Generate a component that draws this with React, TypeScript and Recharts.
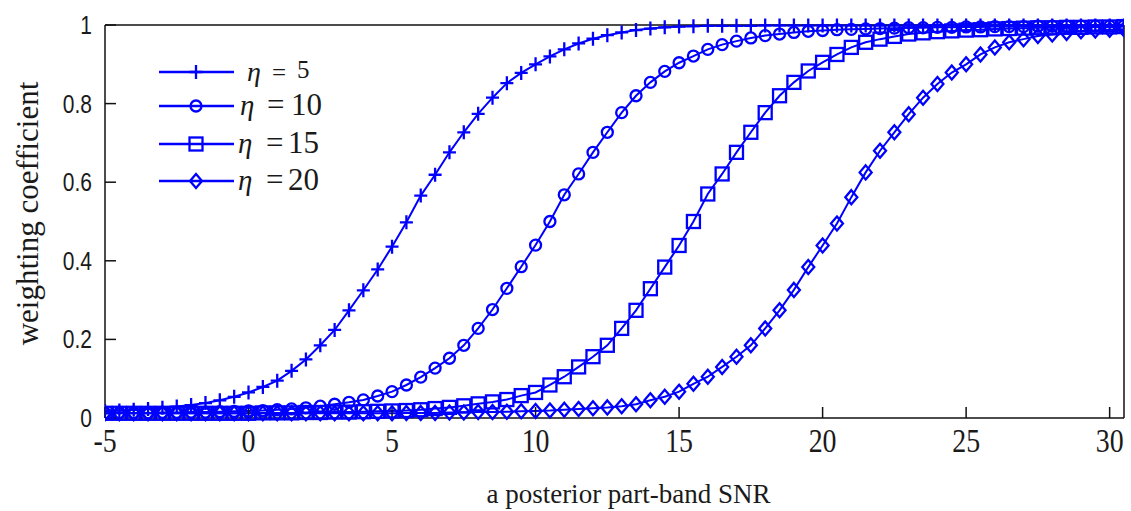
import React from 'react';
import { LineChart, Line, XAxis, YAxis } from 'recharts';

const BLUE = '#0000ff';

// a posterior part-band SNR (x values)
const snr = [
  -5, -4.5, -4, -3.5, -3, -2.5, -2, -1.5, -1, -0.5,
  0, 0.5, 1, 1.5, 2, 2.5, 3, 3.5, 4, 4.5,
  5, 5.5, 6, 6.5, 7, 7.5, 8, 8.5, 9, 9.5,
  10, 10.5, 11, 11.5, 12, 12.5, 13, 13.5, 14, 14.5,
  15, 15.5, 16, 16.5, 17, 17.5, 18, 18.5, 19, 19.5,
  20, 20.5, 21, 21.5, 22, 22.5, 23, 23.5, 24, 24.5,
  25, 25.5, 26, 26.5, 27, 27.5, 28, 28.5, 29, 29.5,
  30, 30.5,
];

const eta5 = [
  0.018, 0.019, 0.021, 0.023, 0.026, 0.029, 0.033, 0.038, 0.045, 0.054,
  0.065, 0.079, 0.095, 0.12, 0.149, 0.185, 0.224, 0.274, 0.325, 0.378,
  0.436, 0.498, 0.566, 0.619, 0.676, 0.727, 0.774, 0.815, 0.852, 0.878,
  0.9, 0.92, 0.938, 0.953, 0.965, 0.974, 0.981, 0.987, 0.991, 0.994,
  0.996, 0.997, 0.998, 0.998, 0.998, 0.998, 0.999, 0.999, 0.999, 0.999,
  0.999, 0.999, 0.999, 0.999, 0.999, 0.999, 0.999, 0.999, 0.999, 0.999,
  0.999, 0.999, 0.999, 0.999, 0.999, 0.999, 0.999, 0.999, 0.999, 0.999,
  0.999, 0.999,
];

const eta10 = [
  0.012, 0.013, 0.013, 0.013, 0.014, 0.014, 0.015, 0.015, 0.016, 0.017,
  0.018, 0.019, 0.021, 0.023, 0.026, 0.03, 0.035, 0.04, 0.046, 0.056,
  0.067, 0.084, 0.104, 0.127, 0.152, 0.185, 0.228, 0.276, 0.33, 0.385,
  0.44, 0.5, 0.568, 0.621, 0.676, 0.727, 0.777, 0.82, 0.854, 0.882,
  0.904, 0.921, 0.938, 0.95, 0.959, 0.967, 0.973, 0.977, 0.981, 0.984,
  0.986, 0.988, 0.989, 0.99, 0.991, 0.992, 0.993, 0.993, 0.994, 0.994,
  0.995, 0.995, 0.996, 0.996, 0.996, 0.997, 0.997, 0.997, 0.997, 0.997,
  0.997, 0.998,
];

const eta15 = [
  0.012, 0.012, 0.012, 0.012, 0.012, 0.012, 0.012, 0.012, 0.012, 0.012,
  0.012, 0.013, 0.013, 0.013, 0.014, 0.014, 0.015, 0.015, 0.016, 0.017,
  0.018, 0.019, 0.021, 0.024, 0.027, 0.031, 0.036, 0.041, 0.047, 0.057,
  0.065, 0.084, 0.105, 0.13, 0.156, 0.185, 0.228, 0.274, 0.329, 0.384,
  0.439, 0.5, 0.57, 0.621, 0.676, 0.727, 0.777, 0.82, 0.854, 0.883,
  0.905, 0.925, 0.943, 0.956, 0.964, 0.971, 0.977, 0.98, 0.983, 0.985,
  0.987, 0.988, 0.99, 0.991, 0.992, 0.993, 0.993, 0.994, 0.994, 0.995,
  0.995, 0.996,
];

const eta20 = [
  0.012, 0.012, 0.012, 0.012, 0.012, 0.012, 0.012, 0.012, 0.012, 0.012,
  0.012, 0.012, 0.012, 0.012, 0.012, 0.012, 0.012, 0.012, 0.012, 0.012,
  0.012, 0.013, 0.013, 0.013, 0.014, 0.014, 0.015, 0.015, 0.016, 0.017,
  0.018, 0.019, 0.021, 0.023, 0.025, 0.027, 0.03, 0.035, 0.045, 0.054,
  0.067, 0.087, 0.105, 0.13, 0.156, 0.185, 0.228, 0.274, 0.326, 0.384,
  0.439, 0.495, 0.562, 0.625, 0.68, 0.727, 0.773, 0.815, 0.85, 0.879,
  0.9, 0.925, 0.943, 0.956, 0.964, 0.972, 0.976, 0.98, 0.984, 0.986,
  0.988, 0.989,
];

const seriesKeys = ['eta5', 'eta10', 'eta15', 'eta20'];
const seriesNumbers = ['5', '10', '15', '20'];
const seriesShapes = ['plus', 'circle', 'square', 'diamond'];
const xTicks = [-5, 0, 5, 10, 15, 20, 25, 30];
const yTicks = [0, 0.2, 0.4, 0.6, 0.8, 1];

const data = snr.map((x, i) => ({
  snr: x,
  eta5: eta5[i],
  eta10: eta10[i],
  eta15: eta15[i],
  eta20: eta20[i],
}));

function Marker({ shape, cx, cy }: { shape: string; cx: number; cy: number }) {
  const s = { stroke: BLUE, strokeWidth: 2.3, fill: 'none' };
  switch (shape) {
    case 'plus':
      return <path d={`M${cx - 6.5} ${cy}H${cx + 6.5}M${cx} ${cy - 7}V${cy + 7}`} {...s} />;
    case 'circle':
      return <circle cx={cx} cy={cy} r={5.5} {...s} />;
    case 'square':
      return <rect x={cx - 6.5} y={cy - 6.5} width={13} height={13} {...s} />;
    default:
      return <path d={`M${cx} ${cy - 7}L${cx + 6} ${cy}L${cx} ${cy + 7}L${cx - 6} ${cy}Z`} {...s} />;
  }
}

const makeDot = (shape: string) => (props: any) => {
  const { cx, cy, index } = props;
  const k = `${shape}-${index}`;
  if (cx == null || cy == null || isNaN(cx) || isNaN(cy)) return <g key={k} />;
  return (
    <g key={k}>
      <Marker shape={shape} cx={cx} cy={cy} />
    </g>
  );
};

const XTick = (props: any) => {
  const { x, y, payload } = props;
  return (
    <g transform={`translate(${x},${y})`}>
      <text
        x={0}
        y={0}
        dy={24}
        textAnchor="middle"
        transform="scale(0.82,1)"
        fontFamily="'Liberation Serif', 'Times New Roman', serif"
        fontSize={34}
        fill="#1a1a1a"
      >
        {payload.value}
      </text>
    </g>
  );
};

const YTick = (props: any) => {
  const { x, y, payload } = props;
  return (
    <g transform={`translate(${x},${y})`}>
      <text
        x={0}
        y={0}
        dy={9}
        textAnchor="end"
        transform="scale(0.84,1)"
        fontFamily="'Liberation Sans', Arial, sans-serif"
        fontSize={25}
        fill="#1a1a1a"
      >
        {payload.value}
      </text>
    </g>
  );
};

const legendRows = [
  { y: 72, etaX: 247, eqX: 272, numX: 297, size: 25, etaSize: 28 },
  { y: 106, etaX: 240, eqX: 267, numX: 291, size: 31, etaSize: 29 },
  { y: 144, etaX: 238, eqX: 266, numX: 288, size: 31, etaSize: 29 },
  { y: 181, etaX: 238, eqX: 266, numX: 288, size: 31, etaSize: 29 },
];

function LegendOverlay() {
  return (
    <svg
      width={1131}
      height={511}
      style={{ position: 'absolute', left: 0, top: 0, pointerEvents: 'none' }}
    >
      {legendRows.map((r, i) => (
        <g key={seriesKeys[i]}>
          <line x1={159} x2={234} y1={r.y} y2={r.y} stroke={BLUE} strokeWidth={2.5} />
          <Marker shape={seriesShapes[i]} cx={196} cy={r.y} />
          <text
            x={r.etaX}
            y={r.y + 9}
            fontFamily="'Liberation Serif', 'Times New Roman', serif"
            fontStyle="italic"
            fontSize={r.etaSize}
            fill="#1a1a1a"
          >
            η
          </text>
          <text
            x={r.eqX}
            y={r.y + 9}
            fontFamily="'Liberation Serif', 'Times New Roman', serif"
            fontSize={r.size}
            fill="#1a1a1a"
          >
            =
          </text>
          <text
            x={r.numX}
            y={r.y + (i === 0 ? 6 : 9)}
            fontFamily="'Liberation Serif', 'Times New Roman', serif"
            fontSize={r.size}
            fill="#1a1a1a"
          >
            {seriesNumbers[i]}
          </text>
        </g>
      ))}
    </svg>
  );
}

const XTitle = (props: any) => {
  const vb = props.viewBox || { x: 0, y: 0, width: 0, height: 0 };
  return (
    <text
      x={vb.x + vb.width / 2 + 14}
      y={vb.y + 85}
      textAnchor="middle"
      fontFamily="'Liberation Serif', 'Times New Roman', serif"
      fontSize={27}
      fill="#1a1a1a"
    >
      a posterior part-band SNR
    </text>
  );
};

const YTitle = (props: any) => {
  const vb = props.viewBox || { x: 0, y: 0, width: 0, height: 0 };
  const cx = 27;
  const cy = vb.y + vb.height / 2 - 8;
  return (
    <text
      x={cx}
      y={cy}
      textAnchor="middle"
      dominantBaseline="central"
      transform={`rotate(-90, ${cx}, ${cy})`}
      fontFamily="'Liberation Serif', 'Times New Roman', serif"
      fontSize={31}
      fill="#1a1a1a"
    >
      weighting coefficient
    </text>
  );
};

export default function App() {
  const axisStroke = { stroke: '#111', strokeWidth: 1.5 };
  return (
    <div
      style={{
        position: 'absolute',
        left: 0,
        top: 0,
        width: 1131,
        height: 511,
        background: '#fff',
      }}
    >
      <LineChart
        width={1131}
        height={511}
        data={data}
        margin={{ top: 24, right: 6, left: 0, bottom: 0 }}
      >
        <XAxis
          dataKey="snr"
          type="number"
          domain={[-5, 30.5]}
          ticks={xTicks}
          allowDataOverflow
          height={93}
          tickSize={-11}
          tickMargin={21}
          axisLine={axisStroke}
          tickLine={axisStroke}
          tick={<XTick />}
          interval={0}
          label={{ content: <XTitle /> }}
        />
        <XAxis
          xAxisId="top"
          orientation="top"
          dataKey="snr"
          type="number"
          domain={[-5, 30.5]}
          ticks={xTicks}
          allowDataOverflow
          height={1}
          tickSize={-11}
          axisLine={axisStroke}
          tickLine={axisStroke}
          tick={false}
          interval={0}
        />
        <YAxis
          type="number"
          domain={[0, 1]}
          ticks={yTicks}
          width={105}
          tickSize={-11}
          tickMargin={24}
          axisLine={axisStroke}
          tickLine={axisStroke}
          tick={<YTick />}
          interval={0}
          label={{ content: <YTitle /> }}
        />
        <YAxis
          yAxisId="right"
          orientation="right"
          type="number"
          domain={[0, 1]}
          ticks={yTicks}
          width={1}
          tickSize={-11}
          axisLine={axisStroke}
          tickLine={axisStroke}
          tick={false}
          interval={0}
        />
        {seriesKeys.map((k, i) => (
          <Line
            key={k}
            dataKey={k}
            type="linear"
            stroke={BLUE}
            strokeWidth={2}
            dot={makeDot(seriesShapes[i])}
            activeDot={false}
            isAnimationActive={false}
          />
        ))}
      </LineChart>
      <LegendOverlay />
    </div>
  );
}
